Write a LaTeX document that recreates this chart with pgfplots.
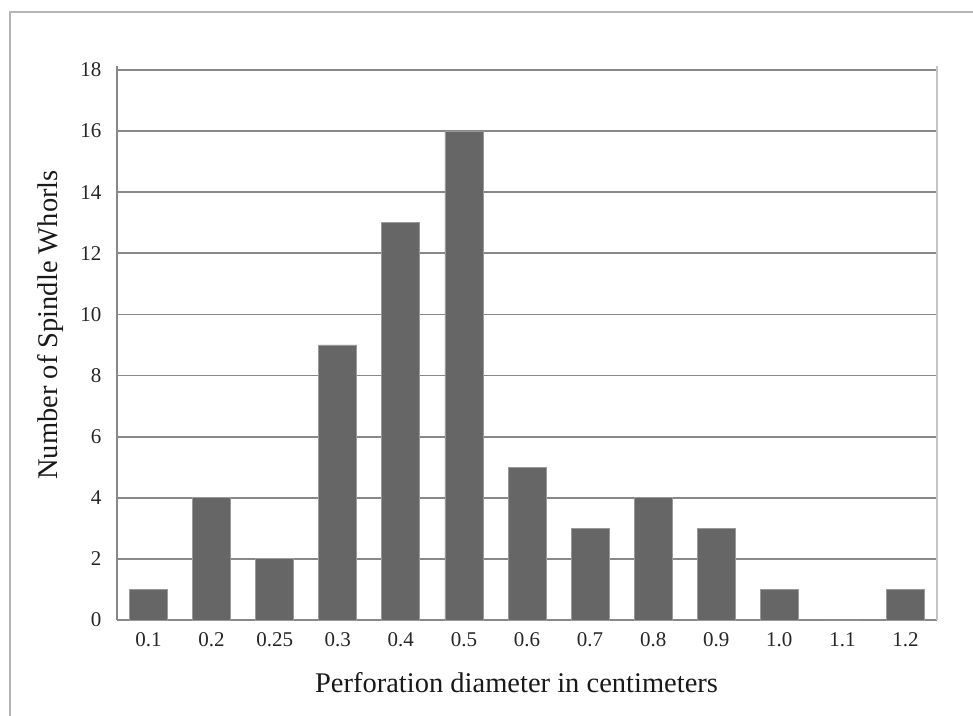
\documentclass[border=0pt]{standalone}
\usepackage{fontspec}
\setmainfont{Liberation Serif}
\usepackage{pgfplots}
\pgfplotsset{compat=1.18}
\definecolor{barc}{HTML}{666666}
\definecolor{gridc}{HTML}{888888}
\definecolor{framec}{HTML}{B4B4B4}
\definecolor{rightc}{HTML}{C4C4C4}
\begin{document}
\begin{tikzpicture}[x=1pt,y=1pt]
\useasboundingbox (0,0) rectangle (973,715);
\draw[color=framec, line width=1.6pt] (10,-10) -- (10,703) -- (990,703);
\begin{axis}[
  at={(117pt,95pt)}, anchor=south west,
  scale only axis, width=820pt, height=554pt,
  xmin=-0.5, xmax=12.5, ymin=0, ymax=18.13,
  ytick={0,2,...,18},
  xtick={0,...,12},
  xticklabels={0.1,0.2,0.25,0.3,0.4,0.5,0.6,0.7,0.8,0.9,1.0,1.1,1.2},
  ymajorgrids,
  grid style={color=gridc, line width=1.7pt},
  major tick length=0pt,
  axis x line*=bottom, axis y line*=left,
  axis line style={color=gridc, line width=1.7pt, -},
  /pgf/number format/assume math mode=true,
  tick label style={font=\fontsize{21}{21}\selectfont, color=black!85},
  xticklabel style={anchor=center, yshift=-20pt},
  yticklabel style={anchor=east, xshift=-12pt},
  label style={font=\fontsize{28.5}{28.5}\selectfont, color=black!90},
  xlabel={Perforation diameter in centimeters},
  ylabel={Number of Spindle Whorls},
  xlabel style={at={(axis description cs:0.4872,-0.1137)}, anchor=center},
  ylabel style={at={(axis description cs:-0.0805,0.5325)}, anchor=center},
  ybar, bar width=38pt, bar shift=0pt,
  clip=false,
]
\addplot[fill=barc, draw=black!40, line width=0.8pt] coordinates {
  (0,1) (1,4) (2,2) (3,9) (4,13) (5,16) (6,5) (7,3) (8,4) (9,3) (10,1) (11,0) (12,1)
};
\draw[color=rightc, line width=2pt] (rel axis cs:1,0) -- (rel axis cs:1,1);
\end{axis}
\end{tikzpicture}
\end{document}
